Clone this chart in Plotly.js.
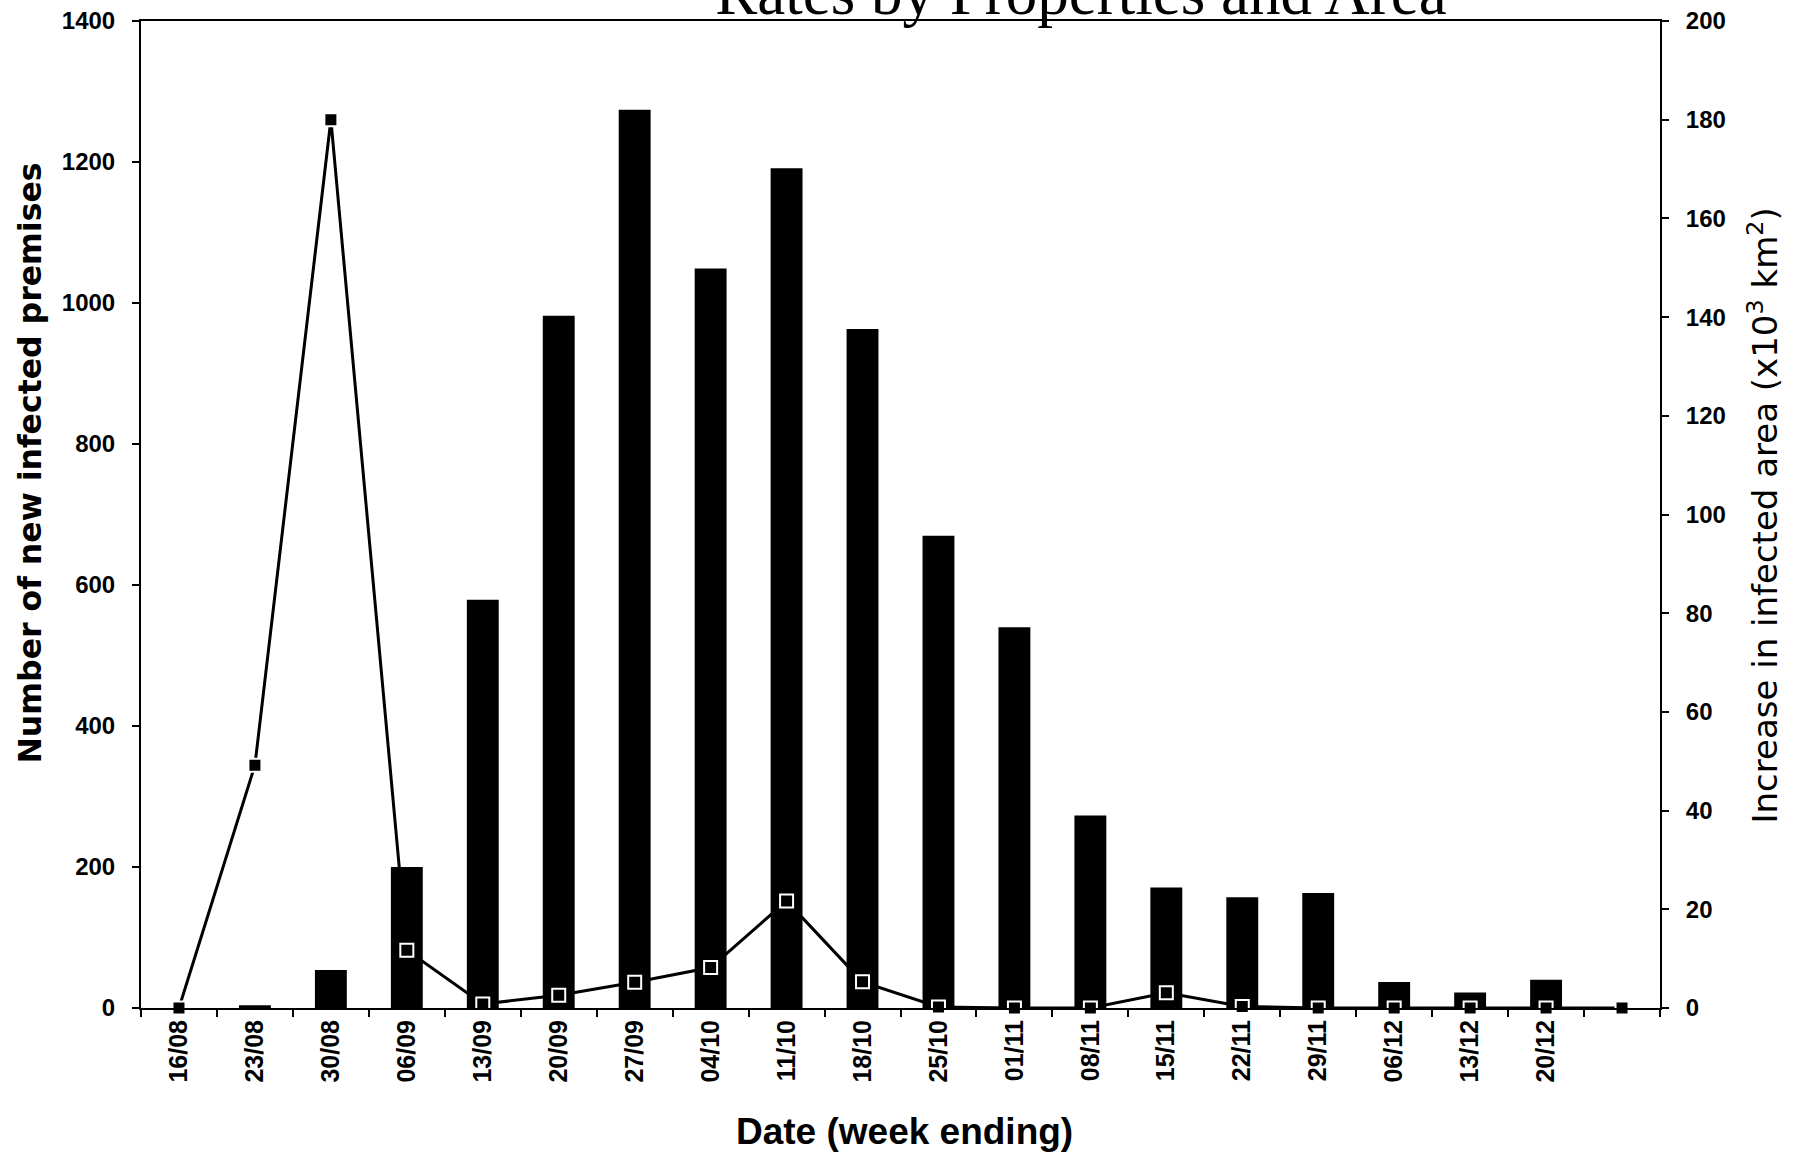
<!DOCTYPE html>
<html>
<head>
<meta charset="utf-8">
<script src="https://cdn.plot.ly/plotly-3.0.1.min.js"></script>
<style>
  html, body { margin: 0; padding: 0; background: #ffffff; }
  #chart { width: 1803px; height: 1155px; }
</style>
</head>
<body>
<div id="chart"></div>
<script>
// Week-ending dates (categories)
const weeks = ["16/08","23/08","30/08","06/09","13/09","20/09","27/09","04/10","11/10","18/10",
               "25/10","01/11","08/11","15/11","22/11","29/11","06/12","13/12","20/12","27/12"];
// Tick labels shown on the x axis (last week unlabeled)
const weekLabels = ["16/08","23/08","30/08","06/09","13/09","20/09","27/09","04/10","11/10","18/10",
                    "25/10","01/11","08/11","15/11","22/11","29/11","06/12","13/12","20/12",""];
// Number of new infected premises (left axis)
const newPremises = [0, 4, 54, 200, 579, 982, 1274, 1049, 1191, 963,
                     670, 540, 273, 171, 157, 163, 37, 22, 40, 0];
// Increase in infected area, x10^3 km^2 (right axis)
const areaIncrease = [0, 49.2, 180, 11.7, 0.8, 2.6, 5.2, 8.2, 21.7, 5.3,
                      0.2, 0, 0, 3.1, 0.3, 0, 0, 0, 0, 0];

const yTicks = [0, 200, 400, 600, 800, 1000, 1200, 1400];
const y2Ticks = [0, 20, 40, 60, 80, 100, 120, 140, 160, 180, 200];

const tickFont = {family: "Liberation Sans, Arial, sans-serif", size: 24, color: "#000", weight: "bold"};

const traces = [
  {
    type: "bar",
    x: weeks,
    y: newPremises,
    marker: {color: "#000000", line: {width: 0}},
    hoverinfo: "skip"
  },
  {
    type: "scatter",
    mode: "lines+markers",
    x: weeks,
    y: areaIncrease,
    yaxis: "y2",
    line: {color: "#000000", width: 3},
    marker: {symbol: "square", size: 13, color: "#000000", line: {color: "#ffffff", width: 2}},
    cliponaxis: false,
    hoverinfo: "skip"
  }
];

const plotL = 141, plotR = 1660, plotT = 21, plotB = 1008;
const W = 1803, H = 1155;
const pw = plotR - plotL, ph = plotB - plotT;
function px(x) { return (x - plotL) / pw; }
function py(y) { return (plotB - y) / ph; }

const layout = {
  width: W,
  height: H,
  margin: {l: plotL, r: W - plotR, t: plotT, b: H - plotB, pad: 0},
  paper_bgcolor: "#ffffff",
  plot_bgcolor: "#ffffff",
  showlegend: false,
  hovermode: false,
  bargap: 0.58,
  title: {
    text: "Rates by Properties and Area",
    font: {family: "Liberation Serif, Times New Roman, serif", size: 63, color: "#000"},
    xref: "container", yref: "container",
    x: 1081 / W, xanchor: "center",
    y: 1 - 14 / H, yanchor: "bottom"
  },
  xaxis: {
    type: "category",
    range: [-0.5, 19.5],
    tickmode: "array",
    tickvals: weeks,
    ticktext: weekLabels,
    tickson: "boundaries",
    ticks: "outside",
    ticklen: 7,
    tickwidth: 2,
    tickcolor: "#000",
    tickangle: -90,
    tickfont: {family: "Liberation Sans, Arial, sans-serif", size: 25, color: "#000", weight: "bold"},
    showline: true,
    linecolor: "#000",
    linewidth: 2,
    mirror: true,
    showgrid: false,
    zeroline: false,
    fixedrange: true
  },
  yaxis: {
    range: [0, 1400],
    tickmode: "array",
    tickvals: yTicks,
    ticks: "outside",
    ticklen: 7,
    tickwidth: 2,
    tickcolor: "#000",
    ticklabelstandoff: 12,
    tickfont: tickFont,
    showline: true,
    linecolor: "#000",
    linewidth: 2,
    showgrid: false,
    zeroline: false,
    fixedrange: true
  },
  yaxis2: {
    overlaying: "y",
    side: "right",
    range: [0, 200],
    tickmode: "array",
    tickvals: y2Ticks,
    ticks: "outside",
    ticklen: 7,
    tickwidth: 2,
    tickcolor: "#000",
    ticklabelstandoff: 12,
    tickfont: tickFont,
    showline: true,
    linecolor: "#000",
    linewidth: 2,
    showgrid: false,
    zeroline: false,
    fixedrange: true
  },
  annotations: [
    {
      text: "Number of new infected premises",
      xref: "paper", yref: "paper",
      x: px(29), y: py(463.5),
      xanchor: "center", yanchor: "middle",
      textangle: -90,
      showarrow: false,
      font: {family: "DejaVu Sans, sans-serif", size: 31.5, color: "#000", weight: "bold"}
    },
    {
      text: "Increase in infected area (x10<sup>3</sup> km<sup>2</sup>)",
      xref: "paper", yref: "paper",
      x: px(1762), y: py(515.5),
      xanchor: "center", yanchor: "middle",
      textangle: -90,
      showarrow: false,
      font: {family: "DejaVu Sans, sans-serif", size: 34, color: "#000"}
    },
    {
      text: "Date (week ending)",
      xref: "paper", yref: "paper",
      x: px(904), y: py(1131),
      xanchor: "center", yanchor: "middle",
      showarrow: false,
      font: {family: "Liberation Sans, Arial, sans-serif", size: 37, color: "#000", weight: "bold"}
    }
  ]
};

Plotly.newPlot("chart", traces, layout, {displayModeBar: false, staticPlot: true});
</script>
</body>
</html>
